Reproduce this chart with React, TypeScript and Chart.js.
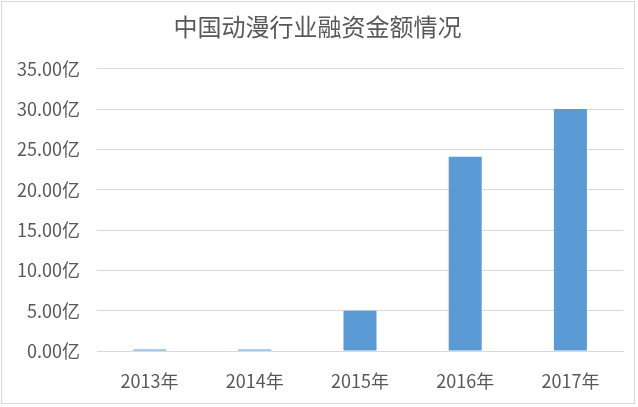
import React, { useEffect, useRef } from "react";
import { Chart, registerables } from "chart.js";

Chart.register(...registerables);

const categories = ["2013年", "2014年", "2015年", "2016年", "2017年"];
const financing = [0.2, 0.2, 5.0, 24.1, 30.0];
const titleText = "中国动漫行业融资金额情况";
const yMax = 35;
const yStep = 5;

const FONT = "'Noto Sans CJK SC', 'Noto Sans', sans-serif";
const TEXT = "#595959";

const borderPlugin = {
  id: "outerBorder",
  afterDraw(chart: any) {
    const ctx = chart.ctx;
    ctx.save();
    ctx.strokeStyle = "#d9d9d9";
    ctx.lineWidth = 1;
    ctx.strokeRect(1.5, 1.5, chart.width - 5, chart.height - 5);
    ctx.restore();
  },
};

export default function App() {
  const ref = useRef<HTMLCanvasElement>(null);
  useEffect(() => {
    const chart = new Chart(ref.current!, {
      type: "bar",
      data: {
        labels: categories,
        datasets: [
          {
            label: "融资金额",
            data: financing,
            backgroundColor: "#5B9BD5",
            borderWidth: 0,
            categoryPercentage: 1,
            barPercentage: 0.314,
          },
        ],
      },
      options: {
        animation: false,
        responsive: false,
        maintainAspectRatio: false,
        layout: { padding: { left: 12, right: 15, top: 0, bottom: 0 } },
        plugins: {
          legend: { display: false },
          tooltip: { enabled: false },
          title: {
            display: true,
            text: titleText,
            color: TEXT,
            font: { family: FONT, size: 24, weight: "normal" },
            padding: { top: 12, bottom: 28 },
          },
        },
        scales: {
          x: {
            grid: { display: false },
            border: { display: true, color: "#d9d9d9" },
            ticks: {
              color: TEXT,
              font: { family: FONT, size: 18 },
              padding: 11,
              maxRotation: 0,
            },
            afterFit(scale: any) {
              scale.height = 56;
            },
          },
          y: {
            min: 0,
            max: yMax,
            grid: { color: "#d9d9d9", drawTicks: false },
            border: { display: false },
            ticks: {
              stepSize: yStep,
              color: TEXT,
              font: { family: FONT, size: 18 },
              padding: 17,
              callback: (v: any) => Number(v).toFixed(2) + "亿",
            },
            afterFit(scale: any) {
              scale.width = 85;
            },
          },
        },
      },
      plugins: [borderPlugin],
    });
    return () => chart.destroy();
  }, []);
  return (
    <div style={{ position: "fixed", left: 0, top: 0, width: 638, height: 407, background: "#fff" }}>
      <canvas ref={ref} width={638} height={407} style={{ width: 638, height: 407 }} />
    </div>
  );
}
